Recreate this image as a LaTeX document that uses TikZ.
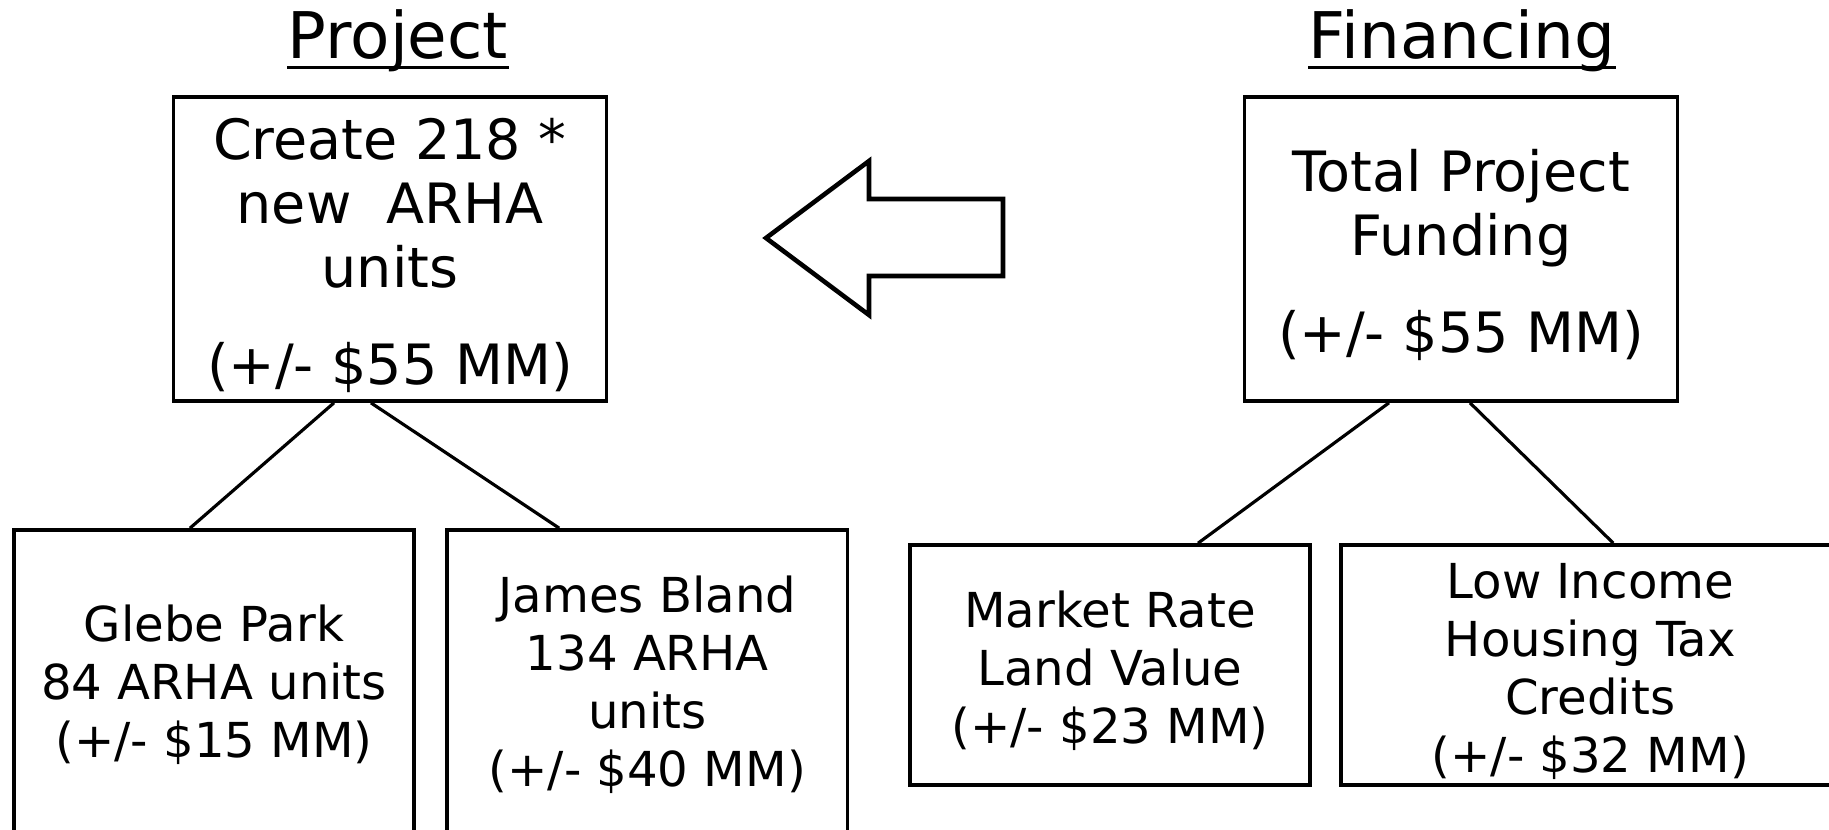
\documentclass[tikz,border=0pt]{standalone}
\usepackage{fontspec}
\setmainfont{DejaVu Sans}
\usetikzlibrary{positioning}

\begin{document}
\begin{tikzpicture}[x=0.01cm,y=-0.01cm,
	heading/.style={inner sep=0pt,anchor=base,font=\fontsize{18.3}{21}\selectfont},
	topbox/.style={draw,line width=1pt,align=center,minimum width=4.33cm,minimum height=3.04cm,inner sep=0pt,font=\fontsize{15.8}{18.2}\selectfont},
	subbox/.style={draw,line width=1pt,align=center,minimum width=4cm,inner sep=0pt,font=\fontsize{13.7}{16.5}\selectfont},
	link/.style={line width=0.9pt}]
			\useasboundingbox (0,0) rectangle (1829,830);
			% headings
			\node[heading](projt) at (398,58) {Project};
			\node[heading](fint) at (1462,58) {Financing};
			\draw[line width=0.9pt] ([yshift=-2.6pt]projt.base west) -- ([yshift=-2.6pt]projt.base east);
			\draw[line width=0.9pt] ([yshift=-2.6pt]fint.base west) -- ([yshift=-2.6pt]fint.base east);
			% top boxes
			\node[topbox](proj) at (390,249) {\rule{0pt}{15.4pt}Create 218 *\\new~~ARHA\\units\\[9.6pt](+/- \$55 MM)};
			\node[topbox](fund) at (1461,249) {\rule{0pt}{15.4pt}Total Project\\Funding\\[9.6pt](+/- \$55 MM)};
			% bottom boxes
			\node[subbox,minimum height=3.1cm](glebe) at (214,685) {Glebe Park\\84 ARHA units\\(+/- \$15 MM)};
			\node[subbox,minimum height=3.1cm](bland)[right=0.295cm of glebe] {James Bland\\134 ARHA\\units\\(+/- \$40 MM)};
			\node[subbox,minimum height=2.4cm](land) at (1110,665) {\rule{0pt}{13.8pt}Market Rate\\Land Value\\(+/- \$23 MM)};
			\node[subbox,minimum height=2.4cm,minimum width=4.98cm](lihtc)[right=0.275cm of land] {\rule{0pt}{13.8pt}Low Income\\Housing Tax\\Credits\\(+/- \$32 MM)};
			% links
			\draw[link] ([xshift=-0.56cm]proj.south) -- ([xshift=-0.24cm]glebe.north);
			\draw[link] ([xshift=-0.19cm]proj.south) -- ([xshift=-0.88cm]bland.north);
			\draw[link] ([xshift=-0.72cm]fund.south) -- ([xshift=0.88cm]land.north);
			\draw[link] ([xshift=0.09cm]fund.south) -- ([xshift=0.23cm]lihtc.north);
			% block arrow
			\draw[line width=1.3pt,line join=miter] (766,238) -- (869,161) -- (869,199) -- (1003,199)
			-- (1003,276) -- (869,276) -- (869,315) -- cycle;
\end{tikzpicture}
\end{document}
